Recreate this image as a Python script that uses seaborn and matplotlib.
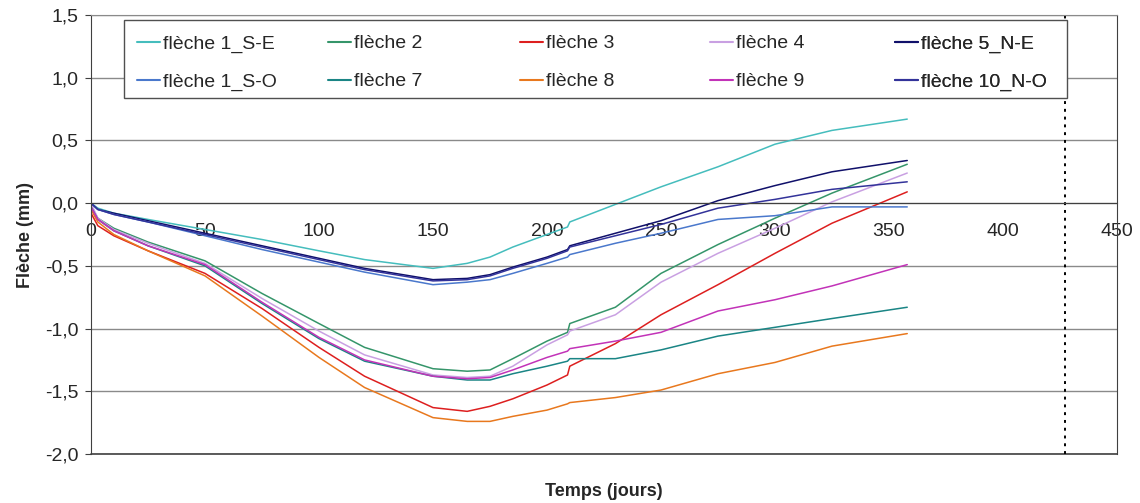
import numpy as np
import pandas as pd
import seaborn as sns
import matplotlib.pyplot as plt
from matplotlib.lines import Line2D
from matplotlib.patches import Rectangle
from matplotlib.ticker import FuncFormatter

jours = [0, 3, 10, 25, 50, 75, 100, 120, 150, 165, 175, 185, 200, 209, 210, 230, 250, 275, 300, 325, 358]

# Flèches mesurées (mm)
fleche_1_SE = [0.0, -0.04, -0.08, -0.13, -0.21, -0.29, -0.38, -0.45, -0.52, -0.48, -0.43, -0.35, -0.25, -0.19, -0.15, -0.01, 0.13, 0.29, 0.47, 0.58, 0.67]
fleche_1_SO = [0.0, -0.05, -0.09, -0.15, -0.26, -0.37, -0.47, -0.55, -0.65, -0.63, -0.61, -0.56, -0.48, -0.43, -0.41, -0.32, -0.24, -0.13, -0.10, -0.03, -0.03]
fleche_2 = [-0.03, -0.12, -0.20, -0.31, -0.46, -0.72, -0.96, -1.15, -1.32, -1.34, -1.33, -1.24, -1.10, -1.03, -0.96, -0.83, -0.56, -0.33, -0.12, 0.08, 0.31]
fleche_3 = [-0.08, -0.18, -0.26, -0.38, -0.56, -0.84, -1.15, -1.38, -1.63, -1.66, -1.62, -1.56, -1.45, -1.37, -1.30, -1.12, -0.89, -0.65, -0.40, -0.16, 0.09]
fleche_4 = [0.0, -0.12, -0.21, -0.32, -0.48, -0.76, -1.02, -1.21, -1.37, -1.39, -1.38, -1.30, -1.13, -1.05, -1.02, -0.89, -0.63, -0.40, -0.20, 0.01, 0.24]
fleche_5_NE = [0.0, -0.05, -0.08, -0.14, -0.24, -0.34, -0.44, -0.52, -0.61, -0.60, -0.57, -0.51, -0.43, -0.37, -0.34, -0.24, -0.14, 0.02, 0.14, 0.25, 0.34]
fleche_7 = [-0.03, -0.13, -0.22, -0.34, -0.50, -0.80, -1.08, -1.26, -1.38, -1.41, -1.41, -1.36, -1.30, -1.26, -1.24, -1.24, -1.17, -1.06, -0.99, -0.92, -0.83]
fleche_8 = [-0.05, -0.15, -0.25, -0.38, -0.58, -0.90, -1.23, -1.47, -1.71, -1.74, -1.74, -1.70, -1.65, -1.60, -1.59, -1.55, -1.49, -1.36, -1.27, -1.14, -1.04]
fleche_9 = [-0.03, -0.13, -0.22, -0.34, -0.49, -0.79, -1.07, -1.25, -1.38, -1.40, -1.39, -1.33, -1.23, -1.18, -1.16, -1.10, -1.03, -0.86, -0.77, -0.66, -0.49]
fleche_10_NO = [0.0, -0.05, -0.09, -0.15, -0.25, -0.35, -0.45, -0.53, -0.62, -0.61, -0.58, -0.52, -0.44, -0.38, -0.35, -0.26, -0.17, -0.04, 0.03, 0.11, 0.17]

noms = ['flèche 1_S-E', 'flèche 2', 'flèche 3', 'flèche 4', 'flèche 5_N-E',
        'flèche 1_S-O', 'flèche 7', 'flèche 8', 'flèche 9', 'flèche 10_N-O']
valeurs = [fleche_1_SE, fleche_2, fleche_3, fleche_4, fleche_5_NE,
           fleche_1_SO, fleche_7, fleche_8, fleche_9, fleche_10_NO]
couleurs = ['#45BDBD', '#35956A', '#DD1F1F', '#C9A0E2', '#10106A',
            '#4A78CC', '#1A8585', '#E8781E', '#C233B8', '#33339A']
palette = dict(zip(noms, couleurs))

df = pd.concat([pd.DataFrame({'jour': jours, 'fleche': v, 'serie': n})
                for n, v in zip(noms, valeurs)], ignore_index=True)

sns.set_style('white')
plt.rcParams['font.family'] = ['Liberation Sans', 'DejaVu Sans']

fig = plt.figure(figsize=(11.4, 5.03), dpi=100)
ax = fig.add_axes([91 / 1140, 49 / 503, 1026 / 1140, 439 / 503])

sns.lineplot(data=df, x='jour', y='fleche', hue='serie', hue_order=noms,
             palette=palette, estimator=None, legend=False, linewidth=1.1, ax=ax)

ax.set_xlim(0, 450)
ax.set_ylim(-2, 1.5)
ax.set_yticks(np.arange(-2, 1.51, 0.5))
ax.yaxis.set_major_formatter(FuncFormatter(lambda v, p: f'{v:.1f}'.replace('.', ',')))
ax.set_xticks(np.arange(0, 451, 50))
ax.grid(axis='y', color='#8a8a8a', linewidth=1)
ax.grid(axis='x', visible=False)

# axe des x au niveau de 0, cadre gris
ax.spines['bottom'].set_position(('data', 0))
for s in ['left', 'right', 'bottom']:
    ax.spines[s].set_color('#404040')
ax.spines['top'].set_color('#8a8a8a')
ax.axhline(-2, color='#404040', linewidth=1.2, clip_on=False)

ax.tick_params(axis='x', direction='out', length=4, color='#404040', labelsize=14, pad=10)
ax.tick_params(axis='y', direction='out', length=4, color='#404040', labelsize=14, left=True, pad=5)

ax.axvline(427, color='black', linestyle=(0, (1.5, 2.5)), linewidth=1.4)

ax.set_xlabel('')
ax.set_ylabel('Flèche (mm)', fontsize=13, fontweight='bold', labelpad=8)
fig.text(604 / 1140, 1 - 492 / 503, 'Temps (jours)', fontsize=13, fontweight='bold',
         ha='center', va='center')

# légende : cadre blanc + 5 colonnes régulières
ax.add_patch(Rectangle((0.032, 0.811), 0.919, 0.1775, transform=ax.transAxes,
                       facecolor='white', edgecolor='#505050', linewidth=1, zorder=4))
col_x = [0.0448, 0.2310, 0.4181, 0.6033, 0.7836]
for i, x0 in enumerate(col_x):
    idx = [i, i + 5]
    handles = [Line2D([], [], color=couleurs[j], linewidth=1.5) for j in idx]
    leg = ax.legend(handles, [noms[j] for j in idx], loc='upper left',
                    bbox_to_anchor=(x0, 0.955), frameon=False, fontsize=14,
                    handlelength=1.2, handletextpad=0.15, labelspacing=1.05,
                    borderpad=0, borderaxespad=0)
    leg.set_zorder(5)
    ax.add_artist(leg)

plt.savefig('out.png', dpi=100)
